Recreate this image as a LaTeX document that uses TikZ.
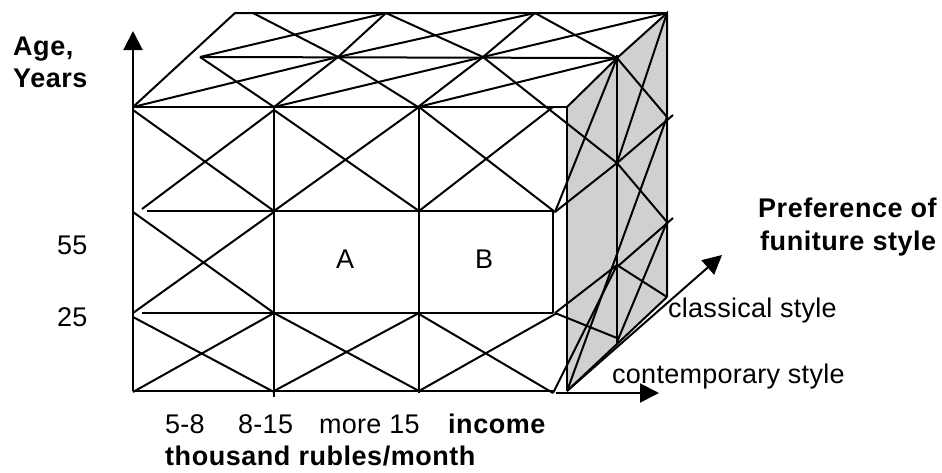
\documentclass[tikz,border=0pt]{standalone}
\usepackage{fontspec}
\setmainfont{Liberation Sans}
\newfontfamily\regfont[LetterSpace=1]{Liberation Sans}
\newfontfamily\bldfont[LetterSpace=2]{Liberation Sans}
\usetikzlibrary{arrows.meta}
\definecolor{sidegray}{RGB}{208,208,208}
\begin{document}
\begin{tikzpicture}[x=1pt,y=-1pt,
  edge/.style={line width=2pt},
  axisarrow/.style={edge,-{Triangle[length=19pt,width=19pt]}},
  lbl/.style={anchor=base west, inner sep=0pt, font=\regfont\fontsize{27}{31}\selectfont},
  clbl/.style={anchor=base, inner sep=0pt, font=\regfont\fontsize{27}{31}\selectfont},
  blbl/.style={anchor=base west, inner sep=0pt, font=\bldfont\bfseries\fontsize{27}{31}\selectfont}]
\useasboundingbox (0,0) rectangle (942,472);
% side face fill
\fill[sidegray] (567,107)--(617,58)--(667,13)--(667,297)--(567,391)--cycle;
% ---------- front face ----------
\draw[edge] (274,107)--(274,397);
\draw[edge] (419,107)--(419,393);
\draw[edge] (553,211)--(553,313);
\draw[edge] (567,107)--(567,391);
\draw[edge] (133,391)--(553,391);
\draw[edge] (133,107)--(567,107);
\draw[edge] (147,211)--(553,211);
\draw[edge] (142,313)--(553,313);
% cell diagonals
\draw[edge] (133,110)--(274,211) (142,209)--(274,110);
\draw[edge] (274,110)--(419,211) (274,211)--(419,107);
\draw[edge] (419,107)--(555,212) (419,211)--(553,107);
\draw[edge] (133,212)--(274,313) (133,313)--(274,212);
\draw[edge] (133,317)--(274,392) (133,392)--(274,313);
\draw[edge] (274,313)--(419,391) (274,391)--(419,313);
\draw[edge] (419,314)--(553,393) (419,391)--(557,313);
% ---------- top face ----------
\draw[edge] (133,107)--(235,13)--(667,13);
\draw[edge] (200,57)--(617,58);
\draw[edge] (133,107)--(338,57)--(535,13);
\draw[edge] (200,57)--(386,13);
\draw[edge] (274,107)--(483,57)--(667,13);
\draw[edge] (418,107)--(617,58);
\draw[edge] (386,13)--(338,57)--(274,107);
\draw[edge] (200,57)--(274,107);
\draw[edge] (253,13)--(338,57)--(418,107);
\draw[edge] (386,13)--(483,57)--(617,163);
\draw[edge] (535,13)--(483,57)--(418,107);
\draw[edge] (535,13)--(617,58);
% ---------- side face ----------
\draw[edge] (567,107)--(617,58)--(667,13)--(667,297);
\draw[edge] (617,55)--(617,345);
\draw[edge] (617,58)--(555,212);
\draw[edge] (617,58)--(667,117);
\draw[edge] (667,13)--(617,163);
\draw[edge] (617,163)--(673,115);
\draw[edge] (555,212)--(617,163);
\draw[edge] (617,163)--(667,222);
\draw[edge] (667,117)--(567,391);
\draw[edge] (617,265)--(553,393);
\draw[edge] (555,313)--(617,265);
\draw[edge] (555,313)--(617,338);
\draw[edge] (617,267)--(673,218);
\draw[edge] (617,265)--(667,297);
\draw[edge] (667,222)--(617,342);
\draw[edge] (567,391)--(667,297);
% ---------- axes ----------
\draw[axisarrow] (133,391)--(133,31);
\draw[axisarrow] (556,393)--(659,393);
\draw[axisarrow] (567,391)--(722,255);
% ---------- labels ----------
\node[blbl] (age) at (13,55) {Age,};
\node[blbl] (years) at (13,87) {Years};
\node[lbl] (l55) at (57,254) {55};
\node[lbl] (l25) at (57,326) {25};
\node[clbl] (la) at (345,268) {A};
\node[clbl] (lb) at (484,268) {B};
\node[blbl] (pref) at (758,217) {Preference of};
\node[blbl] (fstyle) at (760,250) {funiture style};
\node[lbl] (classical) at (668,317) {classical style};
\node[lbl] (contemp) at (612,383) {contemporary style};
\node[lbl] (i1) at (165,433) {5-8};
\node[lbl] (i2) at (238,433) {8-15};
\node[lbl] (i3) at (319,433) {more 15};
\node[blbl] (income) at (448,433) {income};
\node[blbl] (unit) at (165,465) {thousand rubles/month};
\end{tikzpicture}
\end{document}
